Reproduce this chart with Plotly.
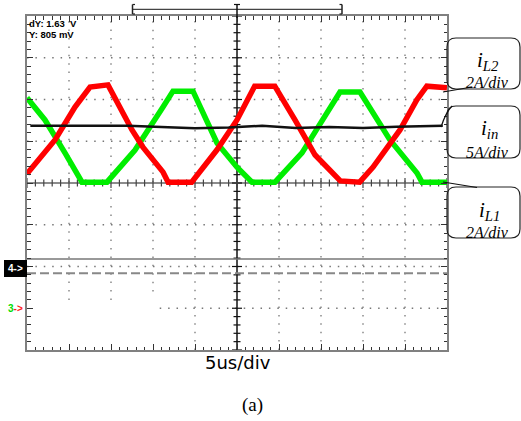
import plotly.graph_objects as go

# ---- data (time in us, amplitude in divisions) ----
t_red = [0, 3.33, 5.71, 7.5, 9.64, 12.5, 13.8, 16.2, 16.8, 19.6, 22.6, 25.0, 27.1, 29.5,
         31.9, 34.3, 37.3, 39.6, 41.2, 44.4, 46.4, 47.6, 50]
v_red = [0.22, 1.03, 1.82, 2.30, 2.35, 1.27, 0.86, 0.26, 0.02, 0.02, 0.79, 1.51, 2.32, 2.32,
         1.51, 0.67, 0.05, 0.02, 0.38, 1.27, 1.99, 2.32, 2.28]

t_green = [0, 2.14, 4.52, 6.55, 9.52, 12.86, 16.19, 17.38, 19.76, 22.62, 25.0, 26.79, 29.52,
           32.74, 37.26, 39.64, 43.21, 46.43, 47.02, 50]
v_green = [2.04, 1.51, 0.72, 0.02, 0.02, 0.79, 1.82, 2.20, 2.20, 0.96, 0.38, 0.02, 0.02,
           0.72, 2.18, 2.18, 1.03, 0.24, 0.02, 0.02]

t_in = [0.4, 4, 8, 12, 16, 20, 24, 28, 32, 36, 40, 44, 49.5]
v_in = [1.37, 1.37, 1.36, 1.37, 1.34, 1.31, 1.33, 1.37, 1.32, 1.34, 1.32, 1.35, 1.37]

cursor_solid = -1.82
cursor_dashed = -2.16

W, H = 521, 421
L, R, T, B = 27, 447, 16, 350


def X(px):
    return (px - L) / (R - L)


def Y(py):
    return (B - py) / (B - T)


fig = go.Figure()
fig.add_trace(go.Scatter(x=t_green, y=v_green, mode="lines",
                         line=dict(color="#00ee00", width=5.5), hoverinfo="skip"))
fig.add_trace(go.Scatter(x=t_red, y=v_red, mode="lines",
                         line=dict(color="#ff0000", width=5.5), hoverinfo="skip"))
fig.add_trace(go.Scatter(x=t_in, y=v_in, mode="lines",
                         line=dict(color="#111111", width=2.5), hoverinfo="skip"))

shapes = []
dot = "1.5px,6.9px"
gcol = "#777777"
# dotted grid
for k in range(1, 10):
    t = k * 5
    if t == 25:
        continue
    y0 = -4
    if t in (5, 10):
        y0 = -2.8
    elif t == 15:
        y0 = -2.6
    shapes.append(dict(type="line", xref="x", yref="y", x0=t, x1=t, y0=y0, y1=4,
                       line=dict(color=gcol, width=1.3, dash=dot), layer="below"))
for v in range(-3, 4):
    if v == 0:
        continue
    x0 = 15.8 if v == -3 else 0
    shapes.append(dict(type="line", xref="x", yref="y", x0=x0, x1=50, y0=v, y1=v,
                       line=dict(color=gcol, width=1.3, dash=dot), layer="below"))
# centre axes
shapes.append(dict(type="line", xref="x", yref="y", x0=25, x1=25, y0=-4, y1=4,
                   line=dict(color="#111", width=1.5), layer="below"))
shapes.append(dict(type="line", xref="x", yref="y", x0=0, x1=50, y0=0, y1=0,
                   line=dict(color="#666", width=1.5), layer="below"))
for i in range(-20, 21):
    v = i * 0.2
    hl = 5 if i % 5 == 0 else 3.5
    shapes.append(dict(type="line", xref="x", yref="y", xsizemode="pixel", xanchor=25,
                       x0=-hl, x1=hl, y0=v, y1=v, line=dict(color="#111", width=1.2),
                       layer="below"))
for i in range(0, 51):
    hl = 5 if i % 5 == 0 else 3.5
    shapes.append(dict(type="line", xref="x", yref="y", ysizemode="pixel", yanchor=0,
                       y0=-hl, y1=hl, x0=i, x1=i, line=dict(color="#444", width=1.2),
                       layer="below"))
# cursor lines
shapes.append(dict(type="line", xref="x", yref="y", x0=0, x1=50, y0=cursor_solid, y1=cursor_solid,
                   line=dict(color="#777", width=1.5), layer="below"))
shapes.append(dict(type="line", xref="x", yref="y", x0=0, x1=50, y0=cursor_dashed, y1=cursor_dashed,
                   line=dict(color="#888", width=2, dash="9px,4px"), layer="below"))

# top bracket
bx0, bx1, bc = X(132.5), X(342), X(237)
shapes += [
    dict(type="line", xref="paper", yref="paper", x0=bx0, x1=bx1, y0=Y(9.3), y1=Y(9.3),
         line=dict(color="#444", width=1.2)),
    dict(type="line", xref="paper", yref="paper", x0=bx0, x1=bx0, y0=Y(4.5), y1=Y(14),
         line=dict(color="#222", width=1.5)),
    dict(type="line", xref="paper", yref="paper", x0=bx0, x1=X(135), y0=Y(4.5), y1=Y(4.5),
         line=dict(color="#222", width=1.2)),
    dict(type="line", xref="paper", yref="paper", x0=bx0, x1=X(135), y0=Y(14), y1=Y(14),
         line=dict(color="#222", width=1.2)),
    dict(type="line", xref="paper", yref="paper", x0=bx1, x1=bx1, y0=Y(4.5), y1=Y(14),
         line=dict(color="#222", width=1.5)),
    dict(type="line", xref="paper", yref="paper", x0=X(339.5), x1=bx1, y0=Y(4.5), y1=Y(4.5),
         line=dict(color="#222", width=1.2)),
    dict(type="line", xref="paper", yref="paper", x0=X(339.5), x1=bx1, y0=Y(14), y1=Y(14),
         line=dict(color="#222", width=1.2)),
    dict(type="line", xref="paper", yref="paper", x0=bc, x1=bc, y0=Y(4.5), y1=Y(18),
         line=dict(color="#111", width=1.5)),
    dict(type="line", xref="paper", yref="paper", x0=X(234), x1=X(240), y0=Y(4.5), y1=Y(4.5),
         line=dict(color="#111", width=1.2)),
]

# channel 4 marker box
shapes.append(dict(type="rect", xref="paper", yref="paper", x0=X(4), x1=X(27), y0=Y(277), y1=Y(260),
                   fillcolor="black", line=dict(width=0)))


def rrect(x0, y0, x1, y1, r=9):
    a0, a1 = X(x0), X(x1)
    b0, b1 = Y(y0), Y(y1)  # b0 top, b1 bottom
    rx = r / (R - L)
    ry = r / (B - T)
    return (f"M {a0+rx},{b0} L {a1-rx},{b0} Q {a1},{b0} {a1},{b0-ry} "
            f"L {a1},{b1+ry} Q {a1},{b1} {a1-rx},{b1} L {a0+rx},{b1} "
            f"Q {a0},{b1} {a0},{b1+ry} L {a0},{b0-ry} Q {a0},{b0} {a0+rx},{b0} Z")


for (y0, y1) in [(38, 89), (106, 158), (187, 238)]:
    shapes.append(dict(type="path", xref="paper", yref="paper", path=rrect(447, y0, 520, y1),
                       line=dict(color="#222", width=1.2), fillcolor="rgba(255,255,255,0)"))
# leader lines
shapes += [
    dict(type="line", xref="paper", yref="paper", x0=X(443), y0=Y(92), x1=X(472), y1=Y(87),
         line=dict(color="#111", width=1.2)),
    dict(type="path", xref="paper", yref="paper",
         path=f"M {X(452)},{Y(106)} Q {X(446)},{Y(112)} {X(441)},{Y(127)}",
         line=dict(color="#111", width=1.2)),
    dict(type="line", xref="paper", yref="paper", x0=X(443), y0=Y(182), x1=X(477), y1=Y(187.5),
         line=dict(color="#111", width=1.2)),
]

ann = []
serif = "Liberation Serif, Times New Roman, serif"


def a(text, px, py, size, family="Liberation Sans, Arial", color="black", xanchor="center", **kw):
    ann.append(dict(text=text, xref="paper", yref="paper", x=X(px), y=Y(py), showarrow=False,
                    xanchor=xanchor, yanchor="middle", font=dict(size=size, family=family, color=color), **kw))


a("<b>dY: 1.63  V</b>", 27, 23, 9.5, xanchor="left")
a("<b>Y: 805 mV</b>", 27, 35, 9.5, xanchor="left")
a("<b>4-></b>", 15.5, 268.5, 10, color="white")
a("<b><span style='color:#00dd00'>3</span><span style='color:#ff2020'>-></span></b>", 15.5, 308, 10)

a("<i>i</i><sub><i>L2</i></sub>", 488, 61, 21, family=serif)
a("<i>2A/div</i>", 487, 83, 16, family=serif)
a("<i>i</i><sub><i>in</i></sub>", 489, 129, 21, family=serif)
a("<i>5A/div</i>", 487, 152, 16, family=serif)
a("<i>i</i><sub><i>L1</i></sub>", 489, 211, 21, family=serif)
a("<i>2A/div</i>", 487, 232, 16, family=serif)

a("5us/div", 238, 362, 18, family="DejaVu Sans, Arial")
a("(a)", 252, 405, 19, family=serif)

fig.update_layout(
    width=W, height=H,
    margin=dict(l=L, r=W - R, t=T, b=H - B, pad=0),
    paper_bgcolor="white", plot_bgcolor="white",
    showlegend=False,
    shapes=shapes, annotations=ann,
    xaxis=dict(range=[0, 50], showgrid=False, zeroline=False, showticklabels=False,
               showline=True, linecolor="#808080", linewidth=2, mirror="ticks",
               ticks="inside", ticklen=6, tickwidth=1.2, tickcolor="#333", dtick=5, tick0=0,
               minor=dict(ticks="inside", dtick=1, ticklen=3.5, tickcolor="#333", tickwidth=1.2)),
    yaxis=dict(range=[-4, 4], showgrid=False, zeroline=False, showticklabels=False,
               showline=True, linecolor="#808080", linewidth=2, mirror="ticks",
               ticks="inside", ticklen=6, tickwidth=1.2, tickcolor="#333", dtick=1, tick0=0,
               minor=dict(ticks="inside", dtick=0.2, ticklen=3.5, tickcolor="#333", tickwidth=1.2)),
)

fig.write_html("out.html")
